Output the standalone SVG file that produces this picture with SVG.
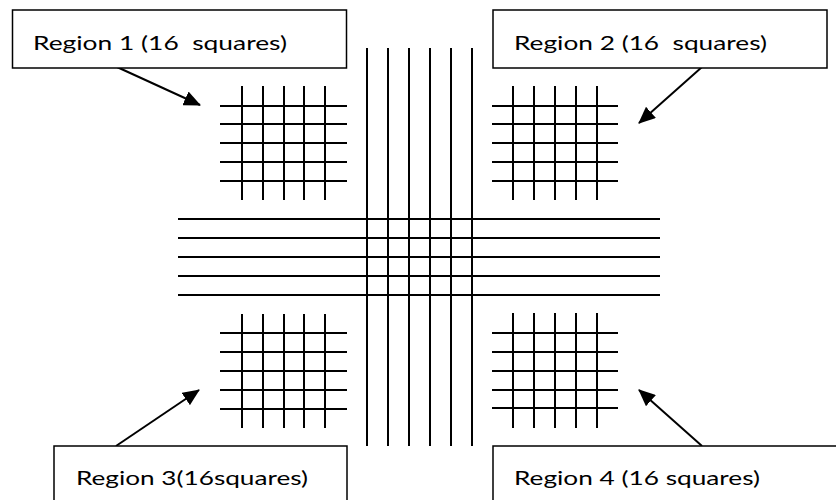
<svg xmlns="http://www.w3.org/2000/svg" width="836" height="500" viewBox="0 0 836 500">
<style>
.g line{stroke:#000;stroke-width:2}
.c line{stroke:#000;stroke-width:2}
.box{fill:#fff;stroke:#000;stroke-width:1.5}
.lbl{font-family:Lato,"Open Sans","Liberation Sans",sans-serif;font-size:20px;fill:#000;white-space:pre}
.arr{stroke:#000;stroke-width:2;fill:none;marker-end:url(#ah)}
</style>
<defs>
<marker id="ah" markerWidth="17" markerHeight="15" refX="16" refY="7.5" orient="auto" markerUnits="userSpaceOnUse">
<path d="M0,0 L17,7.5 L0,15 Z" fill="#000"/>
</marker>
</defs>
<rect width="836" height="500" fill="#fff"/>
<g id="center-grid" class="c">
<line x1="367" y1="48" x2="367" y2="446"/>
<line x1="388" y1="48" x2="388" y2="446"/>
<line x1="409" y1="48" x2="409" y2="446"/>
<line x1="430" y1="48" x2="430" y2="446"/>
<line x1="451" y1="48" x2="451" y2="446"/>
<line x1="472" y1="48" x2="472" y2="446"/>
<line x1="178" y1="219" x2="660" y2="219"/>
<line x1="178" y1="238" x2="660" y2="238"/>
<line x1="178" y1="257" x2="660" y2="257"/>
<line x1="178" y1="276" x2="660" y2="276"/>
<line x1="178" y1="295" x2="660" y2="295"/>
</g>
<g id="grid1" class="g">
<line x1="242" y1="86" x2="242" y2="200"/>
<line x1="263" y1="86" x2="263" y2="200"/>
<line x1="284" y1="86" x2="284" y2="200"/>
<line x1="304" y1="86" x2="304" y2="200"/>
<line x1="325" y1="86" x2="325" y2="200"/>
<line x1="220" y1="106" x2="347" y2="106"/>
<line x1="220" y1="124" x2="347" y2="124"/>
<line x1="220" y1="143" x2="347" y2="143"/>
<line x1="220" y1="162" x2="347" y2="162"/>
<line x1="220" y1="181" x2="347" y2="181"/>
</g>
<g id="grid2" class="g">
<line x1="513" y1="86" x2="513" y2="200"/>
<line x1="534" y1="86" x2="534" y2="200"/>
<line x1="555" y1="86" x2="555" y2="200"/>
<line x1="576" y1="86" x2="576" y2="200"/>
<line x1="597" y1="86" x2="597" y2="200"/>
<line x1="492" y1="106" x2="618" y2="106"/>
<line x1="492" y1="124" x2="618" y2="124"/>
<line x1="492" y1="143" x2="618" y2="143"/>
<line x1="492" y1="162" x2="618" y2="162"/>
<line x1="492" y1="181" x2="618" y2="181"/>
</g>
<g id="grid3" class="g">
<line x1="242" y1="314" x2="242" y2="428"/>
<line x1="263" y1="314" x2="263" y2="428"/>
<line x1="284" y1="314" x2="284" y2="428"/>
<line x1="304" y1="314" x2="304" y2="428"/>
<line x1="325" y1="314" x2="325" y2="428"/>
<line x1="220" y1="333" x2="347" y2="333"/>
<line x1="220" y1="352" x2="347" y2="352"/>
<line x1="220" y1="371" x2="347" y2="371"/>
<line x1="220" y1="390" x2="347" y2="390"/>
<line x1="220" y1="409" x2="347" y2="409"/>
</g>
<g id="grid4" class="g">
<line x1="513" y1="313" x2="513" y2="428"/>
<line x1="534" y1="313" x2="534" y2="428"/>
<line x1="555" y1="313" x2="555" y2="428"/>
<line x1="576" y1="313" x2="576" y2="428"/>
<line x1="597" y1="313" x2="597" y2="428"/>
<line x1="492" y1="333" x2="618" y2="333"/>
<line x1="492" y1="352" x2="618" y2="352"/>
<line x1="492" y1="371" x2="618" y2="371"/>
<line x1="492" y1="390" x2="618" y2="390"/>
<line x1="492" y1="408" x2="618" y2="408"/>
</g>
<g id="connectors">
<line class="arr" x1="117" y1="67" x2="200" y2="105"/>
<line class="arr" x1="702" y1="67" x2="639" y2="123"/>
<line class="arr" x1="116" y1="446" x2="199" y2="390"/>
<line class="arr" x1="702" y1="446" x2="639" y2="390"/>
</g>
<g id="label1">
<rect class="box" x="12.5" y="10" width="334" height="58"/>
<text class="lbl" x="33" y="50" textLength="254" lengthAdjust="spacingAndGlyphs">Region 1 (16  squares)</text>
</g>
<g id="label2">
<rect class="box" x="493" y="10" width="334" height="58"/>
<text class="lbl" x="514" y="50" textLength="253" lengthAdjust="spacingAndGlyphs">Region 2 (16  squares)</text>
</g>
<g id="label3">
<rect class="box" x="54" y="446" width="293" height="60"/>
<text class="lbl" x="76" y="485" textLength="232" lengthAdjust="spacingAndGlyphs">Region 3(16squares)</text>
</g>
<g id="label4">
<rect class="box" x="493" y="446" width="350" height="60"/>
<text class="lbl" x="514" y="485" textLength="246" lengthAdjust="spacingAndGlyphs">Region 4 (16 squares)</text>
</g>
</svg>
